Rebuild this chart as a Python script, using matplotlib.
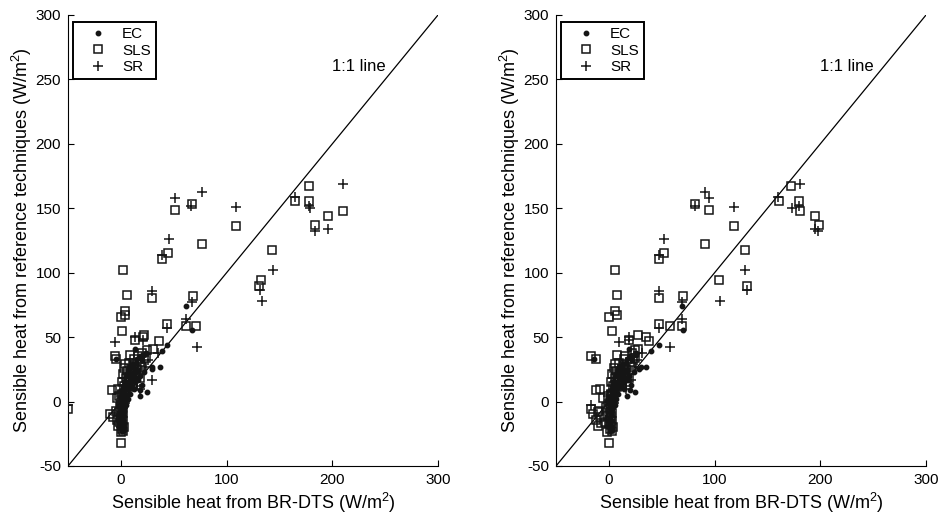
import matplotlib
matplotlib.use('Agg')
import matplotlib.pyplot as plt

plt.rcParams['font.family'] = ['Liberation Sans', 'DejaVu Sans']
plt.rcParams['mathtext.fontset'] = 'custom'
plt.rcParams['mathtext.rm'] = 'Liberation Sans'
plt.rcParams['mathtext.default'] = 'regular'
plt.rcParams['axes.unicode_minus'] = False

# reference technique values (y) are shared by both panels,
# BR-DTS values (x) differ: dts_a -> left panel, dts_b -> right panel
ec_ref = [74, 55.7, 44, 39, 41, 36.5, 26.7, 25.6, 7.5, 4, 33, 27, 9,
          30, 28, 25, 22, 20, 18, 16, 14, 12, 10, 8, 6, 4, 2, 0, -2, -4, -6, -8, -10,
          -12, -15, -18, -20, -23, 24, 20, 15, 12, 32, 35, 26, 10, 6, 2, -3, 38, 17, 13, 23,
          29, 21, 19, 11, 5, -1, -7, -14, -22, 33]
ec_dts_a = [61.6, 67.6, 43.3, 39, 13, 20.5, 36.6, 29, 24.6, 17.7, -5, 29, 18,
            14, 10, 8, 12, 6, 9, 4, 7, 3, 5, 2, 4, 1, 3, 1, 2, 0, 2, 1, 2,
            1, 2, 1, 2, 1, 15, 18, 13, 10, 20, 18, 12, 12, 9, 7, 5, 24, 16, 20, 22,
            11, 10, 13, 8, 6, 3, 3, 0, 2, 15]
ec_dts_b = [69.6, 70, 47.8, 39.4, 19, 25.5, 35, 28.7, 24.5, 17, -14, 30, 20,
            16, 12, 9, 13, 7, 10, 5, 8, 4, 6, 3, 4, 2, 3, 1, 2, 1, 3, 1, 2,
            1, 2, 1, 2, 1, 17, 19, 14, 11, 22, 20, 12, 14, 9, 7, 6, 26, 18, 21, 24,
            13, 11, 14, 9, 7, 4, 2, 1, 3, 17]

sls_ref = [167, 155.5, 155.5, 148, 144, 137, 136, 122, 118, 153, 149, 115, 110.5, 102,
           94, 90, 83, 82, 80, 70, 67, 66, 60, 59, 59, 55, 35, 33, -6, -32,
           52, 48, 50, 47, 41, 40, 36, 35,
           30, 28, 26, 25, 24, 22, 21, 20, 18, 17, 15, 14, 12, 10, 9, 8, 6, 4, 2, 0,
           -2, -4, -6, -8, -9, -10, -12, -13, -14, -15, -16, -18, -19, -21, -23, -24,
           31, 34, 38, 27, 18, 13, 3, -7,
           23, 19, 16, 11, 7, 1, -3, -11, -17, -20, 29, 33]
sls_dts_a = [178, 178, 165, 210, 196, 184, 109, 77, 143, 67, 51, 45, 39, 2,
             133, 131, 6, 68, 29, 4, 4, 0, 44, 62, 71, 1, -6, -5, -50, 0,
             22, 13, 21, 36, 30, 25, 9, 16,
             8, 12, 3, 15, 6, 10, 2, 14, 5, 8, 1, 11, 3, -3, -8, 5, 1, -2, 3, 0,
             2, -1, 1, -2, 2, -10, -7, 0, -4, 2, -2, 1, -3, 1, 2, 0,
             18, 24, 20, 20, 18, 7, -4, -5,
             11, 9, 6, 7, 3, 2, 0, 1, 0, 3, 4, 12]
sls_dts_b = [172, 180, 161, 181, 195, 199, 118.6, 91, 129, 81, 94.6, 51.7, 47.6, 6,
             104, 130.5, 7.4, 70, 47, 5.5, 7.4, 0, 47.6, 58, 69.4, 2.8, -17, -12, -17, 0,
             28, 19, 35, 38, 28, 25, 8, 15,
             10, 14, 5, 16, 7, 11, 3, 15, 6, 9, 2, 12, 4, -8, -12, 6, 2, -1, 4, 1,
             2, -3, 1, -10, 3, -15, -8, 1, -12, 3, -4, 2, -10, 1, 3, -2,
             20, 25, 22, 22, 19, 6, -6, -9,
             13, 10, 7, 8, 4, 3, -1, 2, -7, 4, 6, 14]

sr_ref = [169, 163, 159, 158, 152, 151, 150, 152, 134, 132, 126, 114, 102, 86.5,
          85.7, 78, 77, 64, 57, 46.6, 42, 38, 27, 17, 10, -3, 48, 50, 32,
          28, 24, 22, 20, 18, 15, 13, 11, 8, 6, 4, 2, 0, -3, -5, -8, -11, -14,
          -17, -20, 25, 30, 12, 35, 21, 16, 9, -1]
sr_dts_a = [210, 77, 165, 51, 178, 109, 179, 66, 195.5, 183.5, 45.5, 39, 143.7, 131.7,
            29.7, 133.6, 67.6, 61.6, 43.6, -5.4, 71.7, 35, 23, 29, 17.7, -50, 21, 13, 26,
            10, 14, 6, 9, 4, 12, 2, 7, 1, 5, 0, 3, 1, 0, 2, 0, 1, -1,
            1, 0, 18, 16, 15, 22, 12, 10, 8, 4]
sr_dts_b = [181, 91, 160, 94.6, 180, 118.6, 173, 81, 195, 198, 51.7, 47.6, 129, 130.5,
            47, 104.7, 69.4, 69.4, 47.6, 9.5, 58, 31, 25, 20.7, 15.8, -16.5, 19, 19, 27,
            12, 15, 7, 11, 5, 14, 3, 8, 2, 6, -1, 3, 1, 0, 2, -2, 1, -3,
            2, 0, 19, 17, 16, 24, 13, 12, 9, 5]

x_ticks = [0, 100, 200, 300]
y_ticks = [-50, 0, 50, 100, 150, 200, 250, 300]
lims = (-50, 300)

fig = plt.figure(figsize=(9.41, 5.18), dpi=100)
ax_left = fig.add_axes([0.0723, 0.1004, 0.3932, 0.8707])
ax_right = fig.add_axes([0.5909, 0.1004, 0.3932, 0.8707])

for ax, ec_x, sls_x, sr_x in [(ax_left, ec_dts_a, sls_dts_a, sr_dts_a),
                             (ax_right, ec_dts_b, sls_dts_b, sr_dts_b)]:
    ax.plot(ec_x, ec_ref, 'o', color='#151515', markersize=3.2, label='EC', zorder=3)
    ax.plot(sls_x, sls_ref, 's', markerfacecolor='none', markeredgecolor='#151515',
            markersize=6, markeredgewidth=1.1, label='SLS', zorder=3)
    ax.plot(sr_x, sr_ref, '+', color='#151515', markersize=7, markeredgewidth=1.1,
            label='SR', zorder=3)
    ax.plot(lims, lims, '-', color='black', linewidth=0.9, zorder=2)
    ax.text(200, 260, '1:1 line', fontsize=12, ha='left', va='center')

    ax.set_xlim(lims)
    ax.set_ylim(lims)
    ax.set_xticks(x_ticks)
    ax.set_yticks(y_ticks)
    ax.spines['top'].set_visible(False)
    ax.spines['right'].set_visible(False)
    ax.tick_params(direction='in', length=4, width=0.8, labelsize=11, pad=5)
    ax.set_xlabel('Sensible heat from BR-DTS (W/m$^2$)', fontsize=13, labelpad=3)
    ax.set_ylabel('Sensible heat from reference techniques (W/m$^2$)', fontsize=13, labelpad=1)

    leg = ax.legend(loc='upper left', bbox_to_anchor=(0.0135, 0.9845), borderaxespad=0,
                    fontsize=11, fancybox=False, framealpha=1, edgecolor='black',
                    handlelength=2.6, handletextpad=0.25, labelspacing=0.15,
                    borderpad=0.35, numpoints=1)
    leg.get_frame().set_linewidth(1.4)

fig.savefig('out.png', dpi=100)
